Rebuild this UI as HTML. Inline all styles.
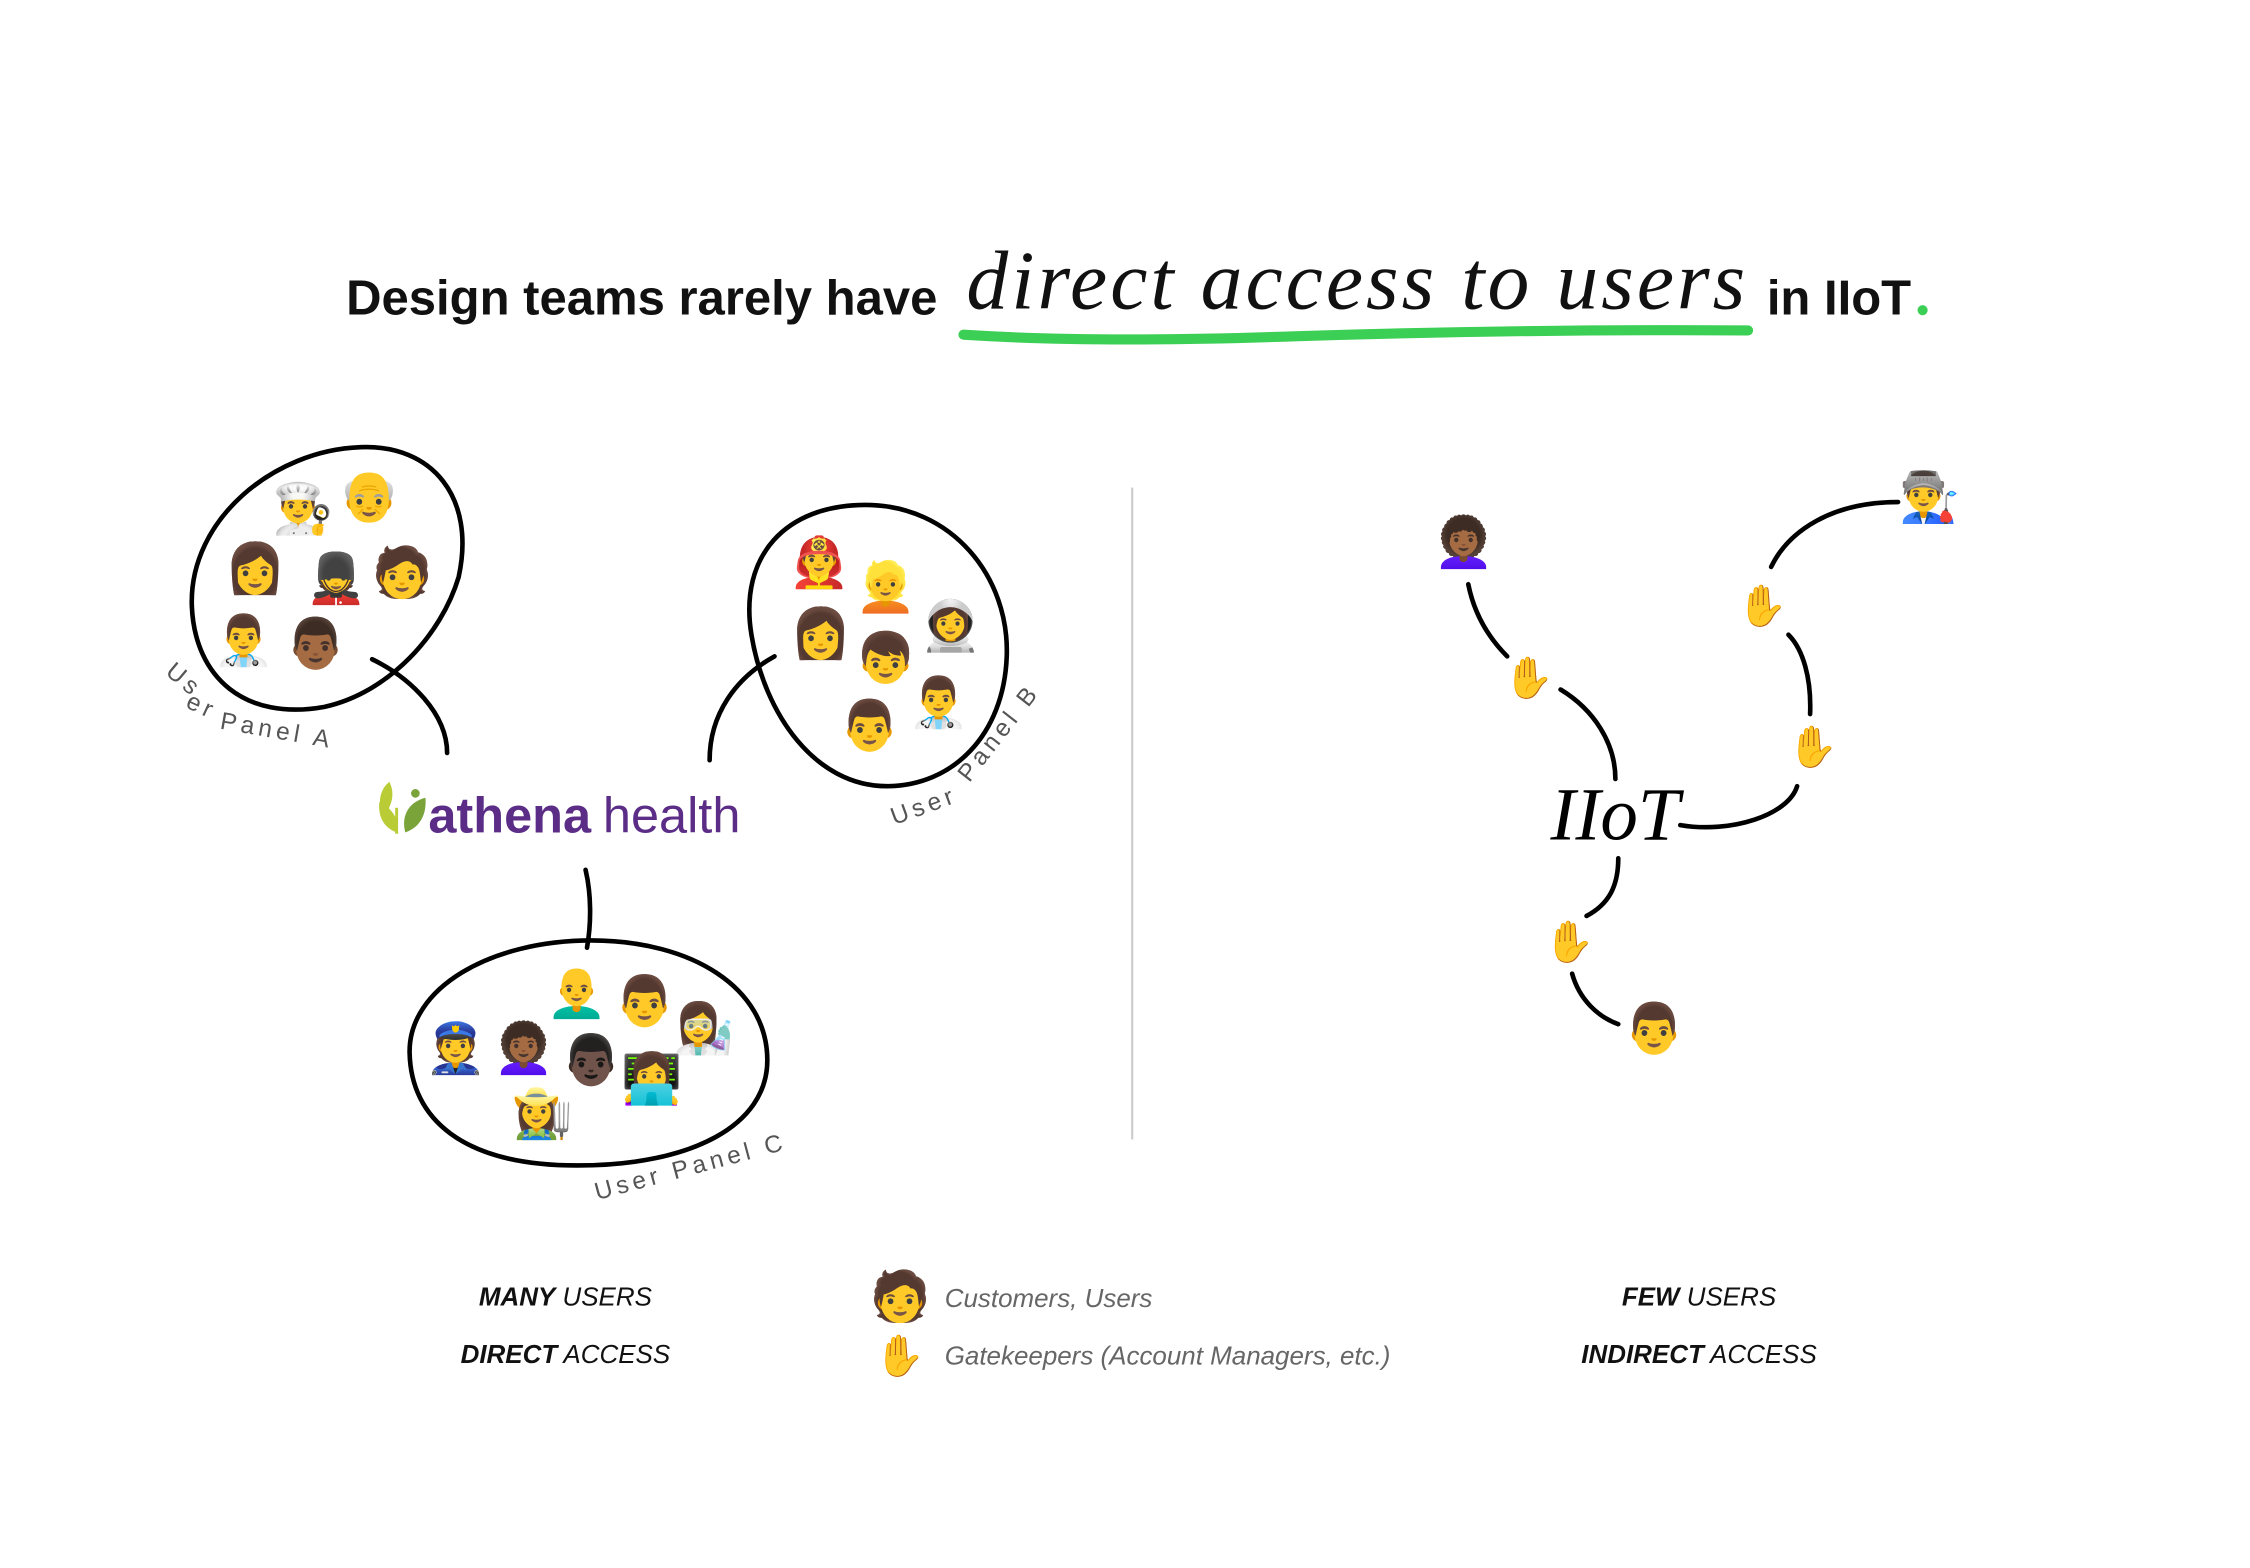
<!DOCTYPE html>
<html><head><meta charset="utf-8"><style>
html,body{margin:0;padding:0;background:#fff;}
svg{display:block;}
text{font-family:"Liberation Sans","DejaVu Sans",sans-serif;}
.e{font-family:"Noto Color Emoji","DejaVu Sans",sans-serif;font-size:34px;text-anchor:middle;dominant-baseline:central;}
.h{font-family:"Noto Color Emoji","DejaVu Sans",sans-serif;font-size:28px;text-anchor:middle;dominant-baseline:central;fill:#f3b82a;}
.ln{fill:none;stroke:#000;stroke-width:3.2;stroke-linecap:round;}
.lab{font-size:17px;fill:#555;letter-spacing:3px;}
.leg{font-size:18px;font-style:italic;fill:#111;}
.srf{font-family:"Liberation Serif",serif;font-style:italic;}
</style></head><body>
<svg width="2250" height="1568" viewBox="0 0 1560 1087" xmlns="http://www.w3.org/2000/svg">
<!-- title -->
<text x="240" y="218" font-size="34" font-weight="bold" fill="#111">Design teams rarely have</text>
<text x="670" y="214" font-size="58" class="srf" fill="#111" textLength="540">direct access to users</text>
<text x="1225" y="218" font-size="34" font-weight="bold" fill="#111">in IIoT</text>
<circle cx="1333" cy="215" r="3.5" fill="#3ccf55"/>
<path d="M668 232 Q760 238 900 233 Q1060 228 1212 229" fill="none" stroke="#3ccf55" stroke-width="7" stroke-linecap="round"/>

<!-- divider -->
<line x1="785" y1="338" x2="785" y2="790" stroke="#ccc" stroke-width="1.5"/>

<!-- Blob A -->
<path class="ln" d="M250 310 C300 308 330 345 318 400 C306 440 270 480 225 490 C170 500 135 470 133 420 C131 360 190 312 250 310 Z"/>
<path class="ln" d="M258 457 C285 470 310 495 310 522"/>
<!-- Blob B -->
<path class="ln" d="M600 350 C660 350 700 400 698 455 C696 510 660 545 615 545 C565 545 530 495 521 440 C512 385 545 350 600 350 Z"/>
<path class="ln" d="M537 455 C510 470 492 495 492 527"/>
<!-- Blob C -->
<path class="ln" d="M410 652 C480 652 532 685 532 735 C532 780 480 808 400 808 C320 808 285 775 284 730 C283 685 340 652 410 652 Z"/>
<path class="ln" d="M406 603 C410 620 410 640 407 657"/>

<!-- athenahealth -->
<g>
<path d="M270 542 C262 548 262 560 266 566 C272 558 274 550 270 542 Z" fill="#b9cc36"/>
<path d="M263 556 C262 566 266 574 275 577 L275 568 C272 562 268 558 263 556 Z" fill="#b9cc36"/>
<rect x="274" y="560" width="2" height="18" fill="#b9cc36"/>
<circle cx="288" cy="550" r="3" fill="#7aa33a"/>
<path d="M295 553 C283 556 278 566 281 577 C290 574 296 566 295 553 Z" fill="#7aa33a"/>
<text x="297" y="577" font-size="35" font-weight="bold" fill="#5b2d86">athena</text>
<text x="418" y="577" font-size="35" fill="#5b2d86">health</text>
</g>

<!-- labels -->
<text class="lab" transform="translate(114,467) rotate(40)">Us</text>
<text class="lab" transform="translate(128,490) rotate(25)">er</text>
<text class="lab" transform="translate(152,505) rotate(10)">Panel A</text>
<text class="lab" transform="translate(620,572) rotate(-20)">User</text>
<text class="lab" transform="translate(672,543) rotate(-52)">Panel B</text>
<text class="lab" transform="translate(414,832) rotate(-15)">User Panel C</text>

<!-- Emojis A -->
<text class="e" x="210" y="353">👨‍🍳</text>
<text class="e" x="256" y="344">👴</text>
<text class="e" x="177" y="394">👩</text>
<text class="e" x="233" y="401">💂</text>
<text class="e" x="279" y="397">🧑</text>
<text class="e" x="169" y="444">👨‍⚕️</text>
<text class="e" x="219" y="446">👨🏾</text>
<!-- Emojis B -->
<text class="e" x="568" y="390">👨‍🚒</text>
<text class="e" x="614" y="407">👱</text>
<text class="e" x="569" y="439">👩</text>
<text class="e" x="614" y="456">👦</text>
<text class="e" x="659" y="434">👩‍🚀</text>
<text class="e" x="603" y="503">👨</text>
<text class="e" x="651" y="487">👨‍⚕️</text>
<!-- Emojis C -->
<text class="e" x="400" y="688">👨‍🦲</text>
<text class="e" x="447" y="694">👨</text>
<text class="e" x="488" y="713">👩‍🔬</text>
<text class="e" x="316" y="727">👮</text>
<text class="e" x="363" y="727">👩🏾‍🦱</text>
<text class="e" x="410" y="735">👨🏿</text>
<text class="e" x="452" y="748">👩‍💻</text>
<text class="e" x="376" y="772">👩‍🌾</text>

<!-- right side -->
<path class="ln" d="M1018 405 C1022 425 1032 442 1045 455"/>
<path class="ln" d="M1082 478 C1105 492 1120 515 1120 540"/>
<path class="ln" d="M1165 572 C1200 578 1240 565 1246 545"/>
<path class="ln" d="M1255 495 C1256 470 1250 450 1240 440"/>
<path class="ln" d="M1228 393 C1240 368 1270 348 1316 348"/>
<path class="ln" d="M1122 595 C1122 615 1115 627 1100 635"/>
<path class="ln" d="M1090 675 C1095 693 1108 705 1122 710"/>
<text x="1075" y="582" font-size="52" class="srf" fill="#000">IIoT</text>
<text class="e" x="1015" y="376">👩🏾‍🦱</text>
<text class="e" x="1338" y="345">👨‍🏭</text>
<text class="e" x="1147" y="713">👨</text>
<text class="h" x="1060" y="470">✋</text>
<text class="h" x="1222" y="420">✋</text>
<text class="h" x="1257" y="518">✋</text>
<text class="h" x="1088" y="653">✋</text>

<!-- legend -->
<text class="leg" x="392" y="905" text-anchor="middle"><tspan font-weight="bold">MANY</tspan> USERS</text>
<text class="leg" x="392" y="945" text-anchor="middle"><tspan font-weight="bold">DIRECT</tspan> ACCESS</text>
<text class="leg" x="1178" y="905" text-anchor="middle"><tspan font-weight="bold">FEW</tspan> USERS</text>
<text class="leg" x="1178" y="945" text-anchor="middle"><tspan font-weight="bold">INDIRECT</tspan> ACCESS</text>
<text class="e" x="624" y="899">🧑</text>
<text class="h" x="624" y="940">✋</text>
<text class="leg" x="655" y="906" style="fill:#666">Customers, Users</text>
<text class="leg" x="655" y="946" style="fill:#666">Gatekeepers (Account Managers, etc.)</text>
</svg>
</body></html>
